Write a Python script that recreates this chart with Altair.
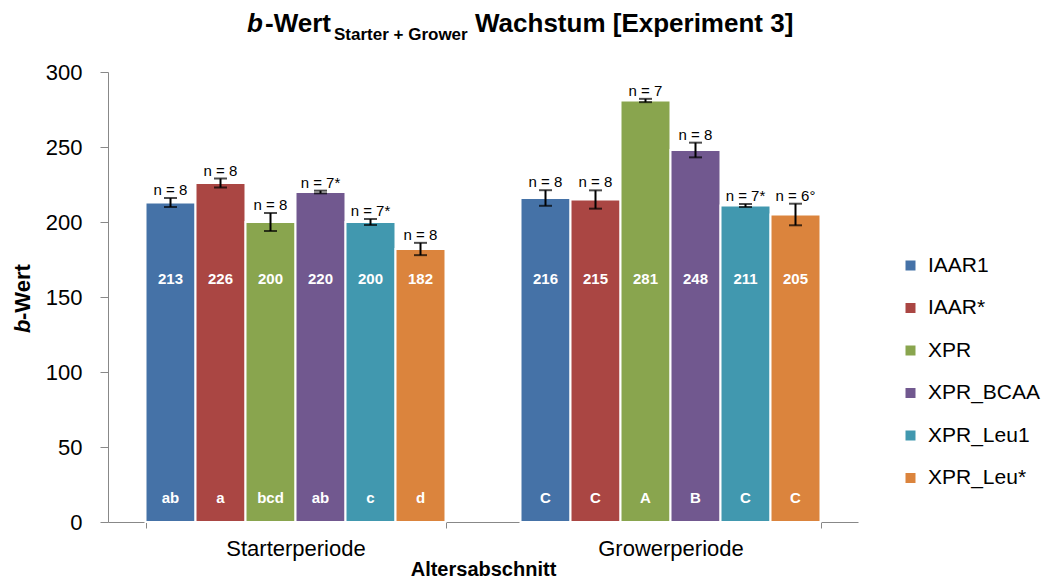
import altair as alt
import pandas as pd

periods = ["Starterperiode", "Growerperiode"]
groups = ["IAAR1", "IAAR*", "XPR", "XPR_BCAA", "XPR_Leu1", "XPR_Leu*"]
colors = ["#4572A7", "#AA4643", "#89A54E", "#71588F", "#4198AF", "#DB843D"]

starter_mean = [213, 226, 200, 220, 200, 182]
grower_mean = [216, 215, 281, 248, 211, 205]
starter_err = [3.0, 3.0, 6.0, 0.9, 2.0, 4.1]
grower_err = [5.2, 6.1, 1.1, 4.9, 1.0, 7.2]
starter_n = ["n = 8", "n = 8", "n = 8", "n = 7*", "n = 7*", "n = 8"]
grower_n = ["n = 8", "n = 8", "n = 7", "n = 8", "n = 7*", "n = 6°"]
starter_letters = ["ab", "a", "bcd", "ab", "c", "d"]
grower_letters = ["C", "C", "A", "B", "C", "C"]

rows = []
for p, means, errs, ns, lets in [
    (periods[0], starter_mean, starter_err, starter_n, starter_letters),
    (periods[1], grower_mean, grower_err, grower_n, grower_letters),
]:
    for g, m, e, n, l in zip(groups, means, errs, ns, lets):
        rows.append({"period": p, "group": g, "mean": m, "lo": m - e, "hi": m + e,
                     "n": n, "letter": l, "label": str(m)})
df = pd.DataFrame(rows)

FONT = "Liberation Sans"

x_enc = alt.X("period:N", sort=periods,
              scale=alt.Scale(paddingInner=0.2, paddingOuter=0.1),
              axis=alt.Axis(title="Altersabschnitt", labelAngle=0, tickBand="extent",
                            domainColor="#888888", tickColor="#888888", tickSize=6,
                            labelFontSize=22, labelColor="#000000", labelPadding=10,
                            titleFontSize=20, titleFontWeight="bold", titleColor="#000000",
                            titlePadding=0))
xoff = alt.XOffset("group:N", sort=groups, scale=alt.Scale(paddingInner=0, paddingOuter=0))

base = alt.Chart(df)

bars = base.mark_bar(stroke="white", strokeWidth=2).encode(
    x=x_enc,
    xOffset=xoff,
    y=alt.Y("mean:Q", scale=alt.Scale(domain=[0, 300], nice=False),
            axis=alt.Axis(title=None, values=[0, 50, 100, 150, 200, 250, 300], grid=False,
                          domainColor="#888888", tickColor="#888888", tickSize=8,
                          labelFontSize=22, labelColor="#000000", labelPadding=18)),
    color=alt.Color("group:N", sort=groups,
                    scale=alt.Scale(domain=groups, range=colors),
                    legend=alt.Legend(title=None, orient="none", legendX=792, legendY=183,
                                      symbolType="square", symbolSize=100,
                                      symbolStrokeWidth=0, labelFontSize=21,
                                      labelColor="#000000", labelOffset=7,
                                      rowPadding=20.5)),
)

err_rule = base.mark_rule(color="black", strokeWidth=2).encode(
    x=alt.X("period:N", sort=periods), xOffset=xoff, y="lo:Q", y2="hi:Q")
cap_lo = base.mark_tick(color="black", thickness=2, size=13).encode(
    x=alt.X("period:N", sort=periods), xOffset=xoff, y="lo:Q")
cap_hi = base.mark_tick(color="black", thickness=2, size=13).encode(
    x=alt.X("period:N", sort=periods), xOffset=xoff, y="hi:Q")

n_text = base.mark_text(fontSize=15, color="black", baseline="alphabetic", dy=-3).encode(
    x=alt.X("period:N", sort=periods), xOffset=xoff, y="hi:Q", text="n:N")

val_text = base.mark_text(fontSize=15, fontWeight="bold", color="white", baseline="middle").encode(
    x=alt.X("period:N", sort=periods), xOffset=xoff, y=alt.value(207), text="label:N")

let_text = base.mark_text(fontSize=15, fontWeight="bold", color="white", baseline="middle").encode(
    x=alt.X("period:N", sort=periods), xOffset=xoff, y=alt.value(426), text="letter:N")

one = alt.Chart(pd.DataFrame({"k": [0]}))
t_b = one.mark_text(text="b", fontSize=26, fontWeight="bold", fontStyle="italic",
                    align="left", baseline="alphabetic", color="black").encode(
    x=alt.value(139), y=alt.value(-40))
t_wert = one.mark_text(text="-Wert", fontSize=26, fontWeight="bold",
                       align="left", baseline="alphabetic", color="black").encode(
    x=alt.value(157), y=alt.value(-40))
t_sub = one.mark_text(text="Starter + Grower", fontSize=17, fontWeight="bold",
                      align="left", baseline="alphabetic", color="black").encode(
    x=alt.value(226), y=alt.value(-32))
t_rest = one.mark_text(text="Wachstum [Experiment 3]", fontSize=26, fontWeight="bold",
                       align="left", baseline="alphabetic", color="black").encode(
    x=alt.value(367), y=alt.value(-40))

y_b = one.mark_text(text="b", fontSize=22, fontWeight="bold", fontStyle="italic", angle=270,
                    align="left", baseline="alphabetic", color="black").encode(
    x=alt.value(-78), y=alt.value(261))
y_wert = one.mark_text(text="-Wert", fontSize=22, fontWeight="bold", angle=270,
                       align="left", baseline="alphabetic", color="black").encode(
    x=alt.value(-78), y=alt.value(248))

chart = alt.layer(
    bars, err_rule, cap_lo, cap_hi, n_text, val_text, let_text,
    t_b, t_wert, t_sub, t_rest, y_b, y_wert
).properties(
    width=750, height=450,
    padding={"left": 100, "top": 64, "right": 183, "bottom": 56},
    autosize=alt.AutoSizeParams(type="none"),
).configure(font=FONT).configure_view(stroke=None)

chart.save("out.html", embed_options={"renderer": "svg", "actions": False})
